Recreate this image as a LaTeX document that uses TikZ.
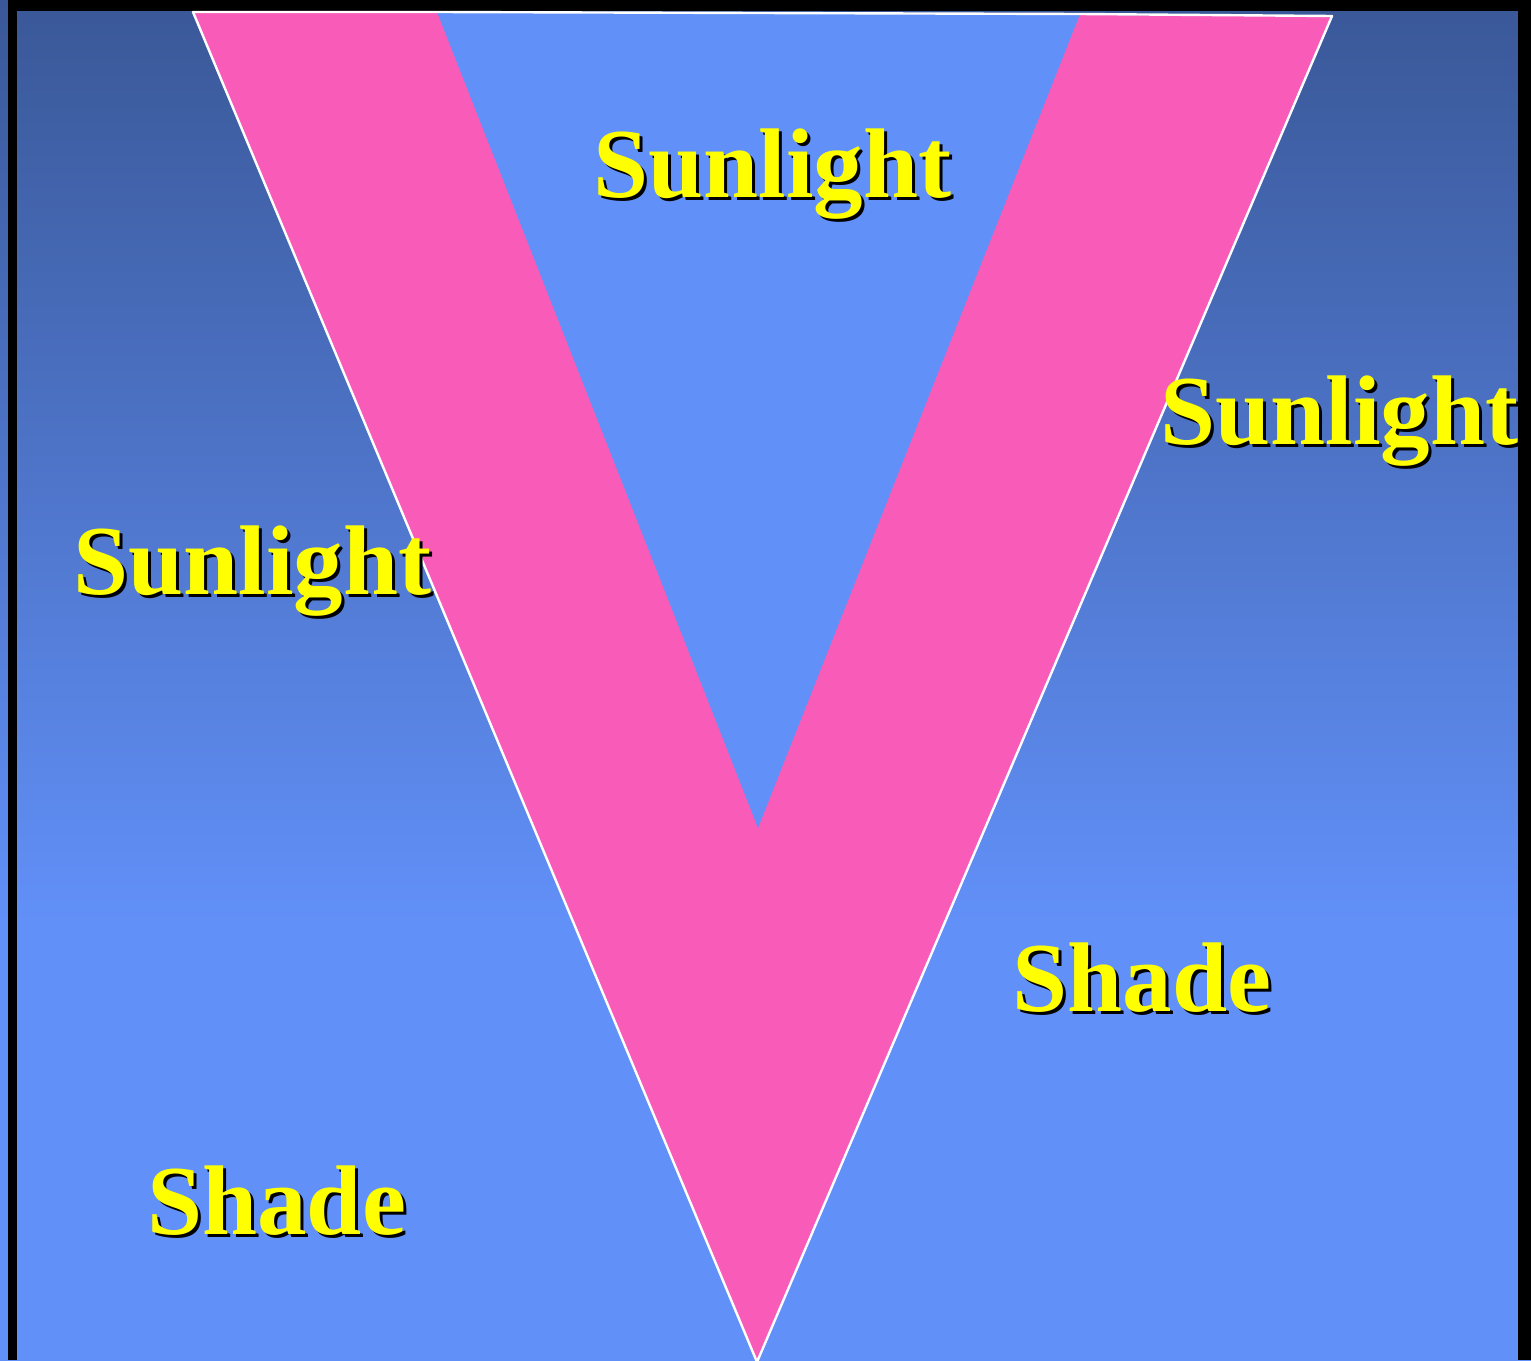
\documentclass[tikz,border=0pt]{standalone}
\usepackage{fontspec}
\setmainfont{Liberation Serif}
\definecolor{bgtop}{HTML}{3A5898}
\definecolor{bgbot}{HTML}{6190F8}
\definecolor{vpink}{HTML}{F95CB8}
\definecolor{txtyel}{HTML}{FFFF00}
\pgfdeclareverticalshading{bgsh}{100bp}{color(0bp)=(bgbot); color(41bp)=(bgbot); color(75bp)=(bgtop); color(100bp)=(bgtop)}
\begin{document}
\begin{tikzpicture}[x=0.5pt,y=-0.5pt,
  lbl/.style={inner sep=0pt,anchor=base west,font=\fontsize{49.5}{50}\selectfont\bfseries},
  lblfront/.style={lbl,text=txtyel},
  lblshadow/.style={lbl,text=black},
  vedge/.style={draw=white,line width=1.2pt,line join=round}]
\useasboundingbox (0,0) rectangle (1531,1360);
% background
\shade[shading=bgsh] (0,0) rectangle (1531,1360);
\fill[black] (8,0) rectangle (1531,11);
\fill[black] (8,0) rectangle (17,1360);
\fill[black] (1518,0) rectangle (1531,1360);
% V shape
\coordinate (otl) at (193,12);
\coordinate (otr) at (1332,16);
\coordinate (obot) at (757,1362);
\coordinate (itl) at (437,12);
\coordinate (itr) at (1080,14);
\coordinate (ibot) at (758,828);
\fill[vpink] (otl) -- (otr) -- (obot) -- cycle;
\fill[bgbot] (itl) -- (itr) -- (ibot) -- cycle;
\draw[vedge] (obot) -- (otl) -- (itl) -- (itr) -- (otr) -- (obot);
% labels
\node[lblshadow] (s1s) at (596,200) {Sunlight};
\node[lblfront]  (s1)  at (593,197) {Sunlight};
\node[lblshadow] (s2s) at (1163,447) {Sunlight};
\node[lblfront]  (s2)  at (1160,444) {Sunlight};
\node[lblshadow] (s3s) at (76,597) {Sunlight};
\node[lblfront]  (s3)  at (73,594) {Sunlight};
\node[lblshadow] (h1s) at (1015,1014) {Shade};
\node[lblfront]  (h1)  at (1012,1011) {Shade};
\node[lblshadow] (h2s) at (150,1237) {Shade};
\node[lblfront]  (h2)  at (147,1234) {Shade};
\end{tikzpicture}
\end{document}
